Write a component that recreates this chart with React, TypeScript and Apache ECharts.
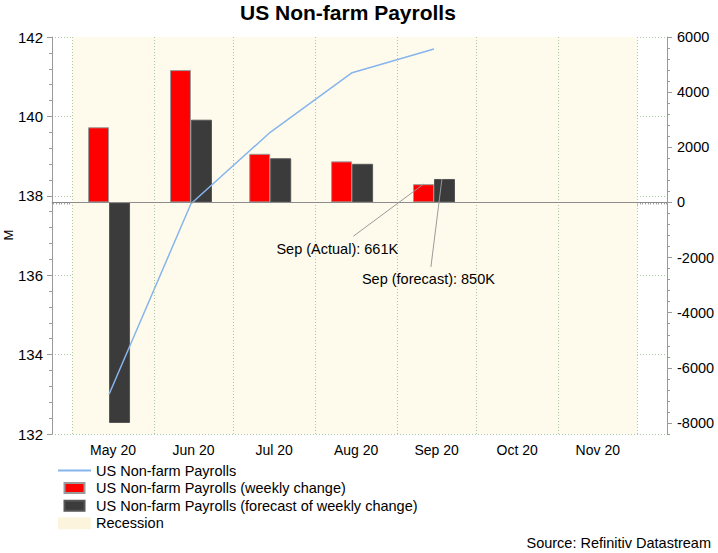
import React, { useEffect, useRef } from "react";
import * as echarts from "echarts";

// ---- data ----
const monthLabels = ["May 20", "Jun 20", "Jul 20", "Aug 20", "Sep 20", "Oct 20", "Nov 20"];
const monthStarts = ["2020-05-01", "2020-06-01", "2020-07-01", "2020-08-01", "2020-09-01", "2020-10-01", "2020-11-01", "2020-12-01"];
const obsDates = ["2020-05-15", "2020-06-15", "2020-07-15", "2020-08-15", "2020-09-15"];
const payrollsLevel = [133.0, 137.8, 139.6, 141.1, 141.7]; // millions, left axis
const actualChange = [2725, 4800, 1763, 1489, 661]; // thousands, right axis
const forecastChange = [-8000, 3000, 1600, 1400, 850]; // thousands, right axis
const recessionRange = ["2020-05-01", "2020-12-01"];
const rightTicks = [-8000, -6000, -4000, -2000, 0, 2000, 4000, 6000];
const annotations = ["Sep (Actual): 661K", "Sep (forecast): 850K"];
const leftAxisName = "M";

const FONT = "'Liberation Sans', Arial, Helvetica, sans-serif";

const dayNum = (s: string) => {
  const [y, m, d] = s.split("-").map(Number);
  return (Date.UTC(y, m - 1, d) - Date.UTC(2020, 0, 1)) / 86400000;
};

export default function App() {
  const ref = useRef<HTMLDivElement>(null);

  useEffect(() => {
    if (!ref.current) return;
    const chart = echarts.init(ref.current, null, { renderer: "svg" });

    const starts = monthStarts.map(dayNum);
    const mids = monthLabels.map((_, i) => (starts[i] + starts[i + 1]) / 2);
    const xMin = 113.4;
    const xMax = 346.2;
    const dailyTicks: number[] = [];
    for (let d = Math.ceil(xMin); d <= Math.floor(xMax); d++) dailyTicks.push(d);

    const obs = obsDates.map(dayNum);
    const axisColor = "#9a9a9a";
    const gridLine = { color: "#a9c9a3", type: [1, 2] as any, width: 1 };
    const shade = "#fffbec";

    const option: any = {
      animation: false,
      textStyle: { fontFamily: FONT },
      title: [
        {
          text: "US Non-farm Payrolls",
          left: 240,
          top: 2,
          padding: 0,
          textStyle: { fontSize: 21, fontWeight: "bold", color: "#000", fontFamily: FONT },
        },
        {
          text: "Source: Refinitiv Datastream",
          right: 7,
          top: 535,
          padding: 0,
          textStyle: { fontSize: 14.5, fontWeight: "normal", color: "#000", fontFamily: FONT },
        },
      ],
      grid: { left: 52, right: 51, top: 37, bottom: 119, containLabel: false, outerBoundsMode: "none" },
      legend: {
        orient: "vertical",
        left: 58,
        top: 463,
        itemWidth: 33,
        itemHeight: 12,
        itemGap: 2.6,
        padding: 0,
        selectedMode: false,
        textStyle: { fontSize: 14.5, color: "#000", fontFamily: FONT },
        data: [
          { name: "US Non-farm Payrolls", icon: "path://M0,0h33v2h-33z" },
          { name: "US Non-farm Payrolls (weekly change)", icon: "path://M0,0L0,0M0,12L0,12M0,1h20v10h-20z" },
          { name: "US Non-farm Payrolls (forecast of weekly change)", icon: "path://M0,0L0,0M0,12L0,12M0,1h20v10h-20z" },
          { name: "Recession", icon: "rect" },
        ],
      },
      xAxis: [
        {
          type: "value",
          min: xMin,
          max: xMax,
          axisLine: { show: true, lineStyle: { color: axisColor } },
          axisTick: { show: true, length: 4, customValues: starts, lineStyle: { color: axisColor } },
          axisLabel: {
            customValues: mids,
            margin: 9,
            fontSize: 14,
            color: "#000",
            fontFamily: FONT,
            formatter: (v: number) => {
              const i = mids.findIndex((m) => Math.abs(m - v) < 0.01);
              return i >= 0 ? monthLabels[i] : "";
            },
          },
          splitLine: { show: false },
        },
        {
          type: "value",
          min: xMin,
          max: xMax,
          position: "bottom",
          axisLine: { show: false },
          axisTick: { show: true, length: 2, customValues: dailyTicks, lineStyle: { color: axisColor } },
          axisLabel: { show: false },
          splitLine: { show: false },
        },
      ],
      yAxis: [
        {
          type: "value",
          position: "left",
          min: 132,
          max: 142,
          interval: 2,
          axisLine: { show: true, lineStyle: { color: axisColor } },
          axisTick: { show: true, length: 5, lineStyle: { color: axisColor } },
          minorTick: { show: true, splitNumber: 5, length: 3, lineStyle: { color: axisColor } },
          axisLabel: { margin: 9, fontSize: 15, color: "#000", fontFamily: FONT },
          splitLine: { show: true, lineStyle: gridLine },
        },
        {
          type: "value",
          position: "right",
          min: -8400,
          max: 6000,
          axisLine: { show: true, lineStyle: { color: axisColor } },
          axisTick: { show: true, length: 5, customValues: rightTicks, lineStyle: { color: axisColor } },
          axisLabel: {
            customValues: rightTicks,
            margin: 10,
            fontSize: 14.5,
            color: "#000",
            fontFamily: FONT,
            formatter: (v: number) => String(Math.round(v)),
          },
          splitLine: { show: false },
        },
        {
          type: "value",
          position: "right",
          min: -8400,
          max: 6000,
          interval: 400,
          axisLine: { show: false },
          axisTick: { show: true, length: 3, lineStyle: { color: axisColor } },
          axisLabel: { show: false },
          splitLine: { show: false },
        },
      ],
      series: [
        {
          name: "Recession",
          type: "bar",
          xAxisIndex: 1,
          yAxisIndex: 0,
          z: -1,
          color: "#fcf4dc",
          data: [],
          markArea: {
            silent: true,
            itemStyle: { color: shade },
            data: [[{ xAxis: dayNum(recessionRange[0]) }, { xAxis: dayNum(recessionRange[1]) }]],
          },
          markLine: {
            silent: true,
            symbol: "none",
            label: { show: false },
            lineStyle: gridLine,
            data: starts.map((s) => ({ xAxis: s })),
          },
        },
        {
          name: "US Non-farm Payrolls (weekly change)",
          type: "bar",
          xAxisIndex: 0,
          yAxisIndex: 1,
          z: 2,
          barWidth: 21,
          barGap: "0%",
          color: "#ff0000",
          itemStyle: { color: "#ff0000", borderColor: "#9a9a9a", borderWidth: 1 },
          data: obs.map((d, i) => [d, actualChange[i]]),
          markLine: {
            silent: true,
            symbol: "none",
            label: { show: false },
            lineStyle: { color: "#8c8c8c", type: "solid", width: 1 },
            data: [{ yAxis: 0 }],
          },
        },
        {
          name: "US Non-farm Payrolls (forecast of weekly change)",
          type: "bar",
          xAxisIndex: 0,
          yAxisIndex: 1,
          z: 2,
          barWidth: 21,
          barGap: "0%",
          color: "#3b3b3b",
          itemStyle: { color: "#3b3b3b", borderColor: "#555", borderWidth: 1 },
          data: obs.map((d, i) => [d, forecastChange[i]]),
        },
        {
          name: "US Non-farm Payrolls",
          type: "line",
          xAxisIndex: 0,
          yAxisIndex: 0,
          z: 4,
          symbol: "none",
          color: "#86b5ee",
          lineStyle: { color: "#86b5ee", width: 1.5 },
          data: obs.map((d, i) => [d, payrollsLevel[i]]),
        },
      ],
    };

    chart.setOption(option);

    const last = obs.length - 1;
    const tipA = chart.convertToPixel({ seriesIndex: 1 }, [obs[last] - 4, actualChange[last]]) as number[];
    const tipF = chart.convertToPixel({ seriesIndex: 2 }, [obs[last] + 3, forecastChange[last]]) as number[];
    const lineStyle = { stroke: "#9a9a9a", lineWidth: 1 };
    const textStyle = { fontSize: 14.5, fill: "#000", fontFamily: FONT };
    chart.setOption({
      graphic: [
        { type: "line", shape: { x1: tipA[0], y1: tipA[1], x2: tipA[0] - 70, y2: tipA[1] + 52 }, style: lineStyle, z: 10 },
        { type: "line", shape: { x1: tipF[0], y1: tipF[1], x2: tipF[0] - 11, y2: tipF[1] + 88 }, style: lineStyle, z: 10 },
        { type: "text", x: tipA[0] - 147, y: tipA[1] + 65, style: { text: annotations[0], ...textStyle, verticalAlign: "middle" }, z: 10 },
        { type: "text", x: tipF[0] - 80, y: tipF[1] + 100, style: { text: annotations[1], ...textStyle, verticalAlign: "middle" }, z: 10 },
        {
          type: "text",
          x: 8,
          y: 235,
          rotation: Math.PI / 2,
          style: { text: leftAxisName, fontSize: 13, fill: "#000", fontFamily: FONT, align: "center", verticalAlign: "middle" },
          z: 10,
        },
      ],
    });

    return () => chart.dispose();
  }, []);

  return <div ref={ref} style={{ position: "fixed", left: 0, top: 0, width: 718, height: 553, background: "#fff" }} />;
}
